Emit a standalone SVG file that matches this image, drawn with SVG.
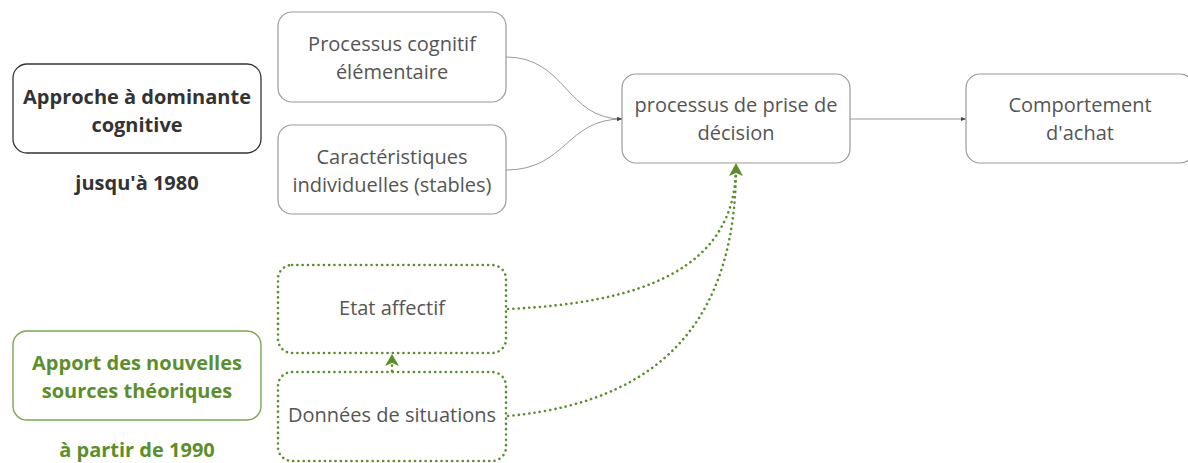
<svg xmlns="http://www.w3.org/2000/svg" width="1188" height="463" viewBox="0 0 1188 463">
<style>
.box{fill:#fff;stroke:#9a9a9a;stroke-width:1.2}
.dark{fill:#fff;stroke:#333;stroke-width:1.3}
.gbox{fill:#fff;stroke:#7aa852;stroke-width:1.4}
.dot{fill:none;stroke:#5b8f2b;stroke-width:2.6;stroke-linecap:round;stroke-dasharray:0.1 5.2}
.t{font-family:"Open Sans","Liberation Sans",sans-serif;font-size:20px;fill:#555;text-anchor:middle}
.b{font-family:"Open Sans","Liberation Sans",sans-serif;font-size:20px;font-weight:bold;fill:#333;text-anchor:middle}
.g{fill:#5b8f2b}
.c{fill:none;stroke:#999;stroke-width:1}
.gc{fill:none;stroke:#5b8f2b;stroke-width:2.6;stroke-linecap:round;stroke-dasharray:0.1 5.2}
</style>
<defs>
<marker id="ah" viewBox="0 0 10 10" refX="10" refY="5" markerWidth="5" markerHeight="5" orient="auto" markerUnits="userSpaceOnUse"><path d="M0,1 L10,5 L0,9 z" fill="#444"/></marker>
</defs>
<g id="connectors">
<path class="c" d="M506,57 C566,57 566,119 622,119" marker-end="url(#ah)"/>
<path class="c" d="M506,170 C566,170 566,119 622,119" marker-end="url(#ah)"/>
<path class="c" d="M850,119 L966,119" marker-end="url(#ah)"/>
<path class="gc" d="M508,309 C640,303 736,270 736,166"/>
<path class="gc" d="M508,416 C680,400 736,300 736,166"/>
<path class="gc" d="M392,371 L392,357"/>
<path d="M736,163 L743,176 L736,173 L729,176 z" fill="#5b8f2b"/>
<path d="M392,354 L399,366 L392,363 L385,366 z" fill="#5b8f2b"/>
</g>
<g id="n-approche">
<rect class="dark" x="13" y="64" width="248" height="89" rx="14"/>
<text class="b" x="137" y="104">Approche à dominante</text>
<text class="b" x="137" y="132">cognitive</text>
</g>
<g id="n-jusqua">
<text class="b" x="137" y="190">jusqu'à 1980</text>
</g>
<g id="n-processus">
<rect class="box" x="278" y="12" width="228" height="90" rx="14"/>
<text class="t" x="392" y="51">Processus cognitif</text>
<text class="t" x="392" y="79">élémentaire</text>
</g>
<g id="n-caract">
<rect class="box" x="278" y="125" width="228" height="89" rx="14"/>
<text class="t" x="392" y="164">Caractéristiques</text>
<text class="t" x="392" y="192">individuelles (stables)</text>
</g>
<g id="n-decision">
<rect class="box" x="622" y="74" width="228" height="89" rx="14"/>
<text class="t" x="736" y="112">processus de prise de</text>
<text class="t" x="736" y="140">décision</text>
</g>
<g id="n-comportement">
<rect class="box" x="966" y="74" width="228" height="89" rx="14"/>
<text class="t" x="1080" y="112">Comportement</text>
<text class="t" x="1080" y="140">d'achat</text>
</g>
<g id="n-etat">
<rect class="dot" x="278" y="265" width="228" height="88" rx="14"/>
<text class="t" x="392" y="315">Etat affectif</text>
</g>
<g id="n-donnees">
<rect class="dot" x="278" y="372" width="228" height="89" rx="14"/>
<text class="t" x="392" y="422">Données de situations</text>
</g>
<g id="n-apport">
<rect class="gbox" x="13" y="331" width="248" height="89" rx="14"/>
<text class="b g" x="137" y="370">Apport des nouvelles</text>
<text class="b g" x="137" y="398">sources théoriques</text>
</g>
<g id="n-apartir">
<text class="b g" x="137" y="457">à partir de 1990</text>
</g>
</svg>
